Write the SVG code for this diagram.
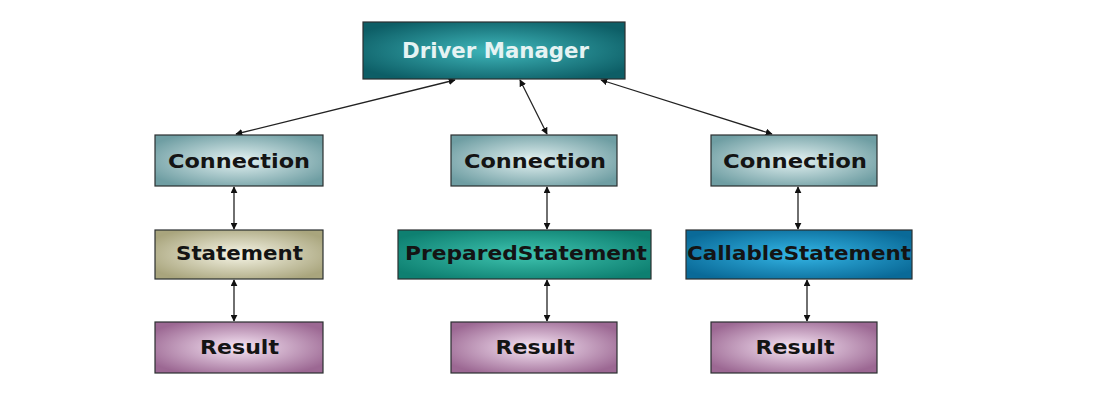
<svg xmlns="http://www.w3.org/2000/svg" width="1105" height="410" viewBox="0 0 1105 410">
<style>
.box{stroke:#2b2f30;stroke-width:1.2}
.t{font-family:"DejaVu Sans","Liberation Sans",sans-serif;font-weight:bold;font-size:20px;fill:#141414;text-anchor:middle}
.dm{fill:#e6f3f3;font-size:21px}
.c{stroke:#222;stroke-width:1.3;fill:none;marker-start:url(#ah);marker-end:url(#ah)}
</style>
<defs>
<marker id="ah" viewBox="0 0 10 10" refX="9" refY="5" markerWidth="7" markerHeight="7" markerUnits="userSpaceOnUse" orient="auto-start-reverse">
<path d="M0,0 L10,5 L0,10 z" fill="#111"/>
</marker>
<radialGradient id="gDM" cx="0.5" cy="0.5" r="0.6">
<stop offset="0" stop-color="#3fb7bb"/><stop offset="1" stop-color="#0d5e66"/>
</radialGradient>
<radialGradient id="gCon" cx="0.5" cy="0.5" r="0.6">
<stop offset="0" stop-color="#e4f2f2"/><stop offset="1" stop-color="#6f9ea3"/>
</radialGradient>
<radialGradient id="gSt" cx="0.5" cy="0.5" r="0.6">
<stop offset="0" stop-color="#f6f5e6"/><stop offset="1" stop-color="#a9a57d"/>
</radialGradient>
<radialGradient id="gPS" cx="0.5" cy="0.5" r="0.6">
<stop offset="0" stop-color="#3fc4b0"/><stop offset="1" stop-color="#0e8071"/>
</radialGradient>
<radialGradient id="gCS" cx="0.5" cy="0.5" r="0.6">
<stop offset="0" stop-color="#34b6e6"/><stop offset="1" stop-color="#0a6a98"/>
</radialGradient>
<radialGradient id="gRes" cx="0.5" cy="0.5" r="0.6">
<stop offset="0" stop-color="#f7e6f5"/><stop offset="1" stop-color="#9c6893"/>
</radialGradient>
</defs>
<rect width="1105" height="410" fill="#fff"/>
<g id="connectors">
<line class="c" x1="455" y1="80" x2="236" y2="134"/>
<line class="c" x1="520" y1="80" x2="547" y2="134"/>
<line class="c" x1="601" y1="80" x2="772" y2="134"/>
<line class="c" x1="234" y1="187" x2="234" y2="229"/>
<line class="c" x1="234" y1="280" x2="234" y2="321"/>
<line class="c" x1="547" y1="187" x2="547" y2="229"/>
<line class="c" x1="547" y1="280" x2="547" y2="321"/>
<line class="c" x1="798" y1="187" x2="798" y2="229"/>
<line class="c" x1="807" y1="280" x2="807" y2="321"/>
</g>
<g id="driver-manager">
<rect class="box" x="363" y="22" width="262" height="57" fill="url(#gDM)"/>
<text class="t dm" x="495.5" y="58" textLength="187" lengthAdjust="spacingAndGlyphs">Driver Manager</text>
</g>
<g id="connection-1">
<rect class="box" x="155" y="135" width="168" height="51" fill="url(#gCon)"/>
<text class="t" x="239" y="168" textLength="142" lengthAdjust="spacingAndGlyphs">Connection</text>
</g>
<g id="connection-2">
<rect class="box" x="451" y="135" width="166" height="51" fill="url(#gCon)"/>
<text class="t" x="535" y="168" textLength="142" lengthAdjust="spacingAndGlyphs">Connection</text>
</g>
<g id="connection-3">
<rect class="box" x="711" y="135" width="166" height="51" fill="url(#gCon)"/>
<text class="t" x="795" y="168" textLength="144" lengthAdjust="spacingAndGlyphs">Connection</text>
</g>
<g id="statement">
<rect class="box" x="155" y="230" width="168" height="49" fill="url(#gSt)"/>
<text class="t" x="239.5" y="260" textLength="127" lengthAdjust="spacingAndGlyphs">Statement</text>
</g>
<g id="prepared-statement">
<rect class="box" x="398" y="230" width="253" height="49" fill="url(#gPS)"/>
<text class="t" x="526" y="260" textLength="242" lengthAdjust="spacingAndGlyphs">PreparedStatement</text>
</g>
<g id="callable-statement">
<rect class="box" x="686" y="230" width="226" height="49" fill="url(#gCS)"/>
<text class="t" x="799" y="260" textLength="224" lengthAdjust="spacingAndGlyphs">CallableStatement</text>
</g>
<g id="result-1">
<rect class="box" x="155" y="322" width="168" height="51" fill="url(#gRes)"/>
<text class="t" x="239.5" y="354" textLength="79" lengthAdjust="spacingAndGlyphs">Result</text>
</g>
<g id="result-2">
<rect class="box" x="451" y="322" width="166" height="51" fill="url(#gRes)"/>
<text class="t" x="535" y="354" textLength="79" lengthAdjust="spacingAndGlyphs">Result</text>
</g>
<g id="result-3">
<rect class="box" x="711" y="322" width="166" height="51" fill="url(#gRes)"/>
<text class="t" x="795" y="354" textLength="79" lengthAdjust="spacingAndGlyphs">Result</text>
</g>
</svg>
